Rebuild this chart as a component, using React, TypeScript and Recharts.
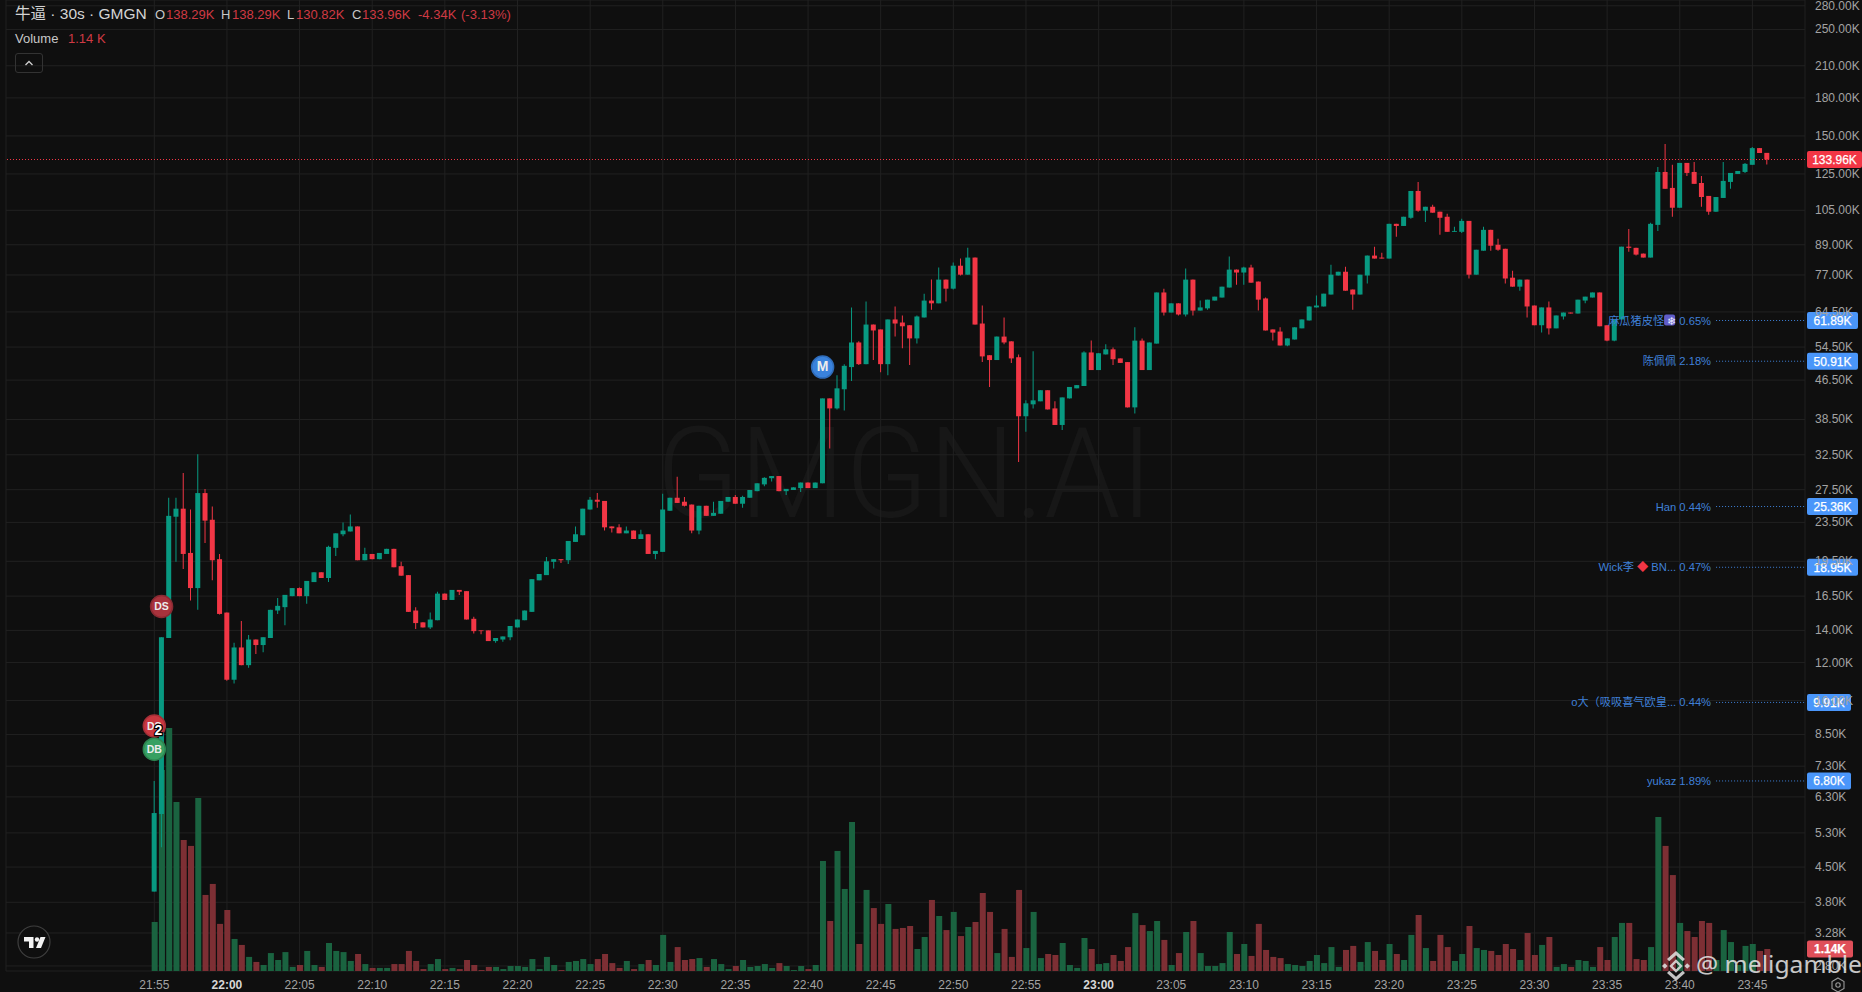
import React from "react";
import {
  Bar,
  CartesianGrid,
  Cell,
  ComposedChart,
  ReferenceDot,
  ReferenceLine,
  XAxis,
  YAxis,
} from "recharts";

// prices in thousands, one candle every 30s from 21:55
const opens = [
  4.0,5.8,13.5,24.15,25.1,20.3,17.15,27.05,23.8,19.7,
  15.25,11.05,12.9,11.85,13.4,13.05,13.5,15.4,15.65,16.5,
  17.15,16.5,17.65,18.5,18.0,20.8,22.2,22.5,23.05,19.6,
  20.2,19.7,20.2,20.7,19.05,18.25,15.4,14.55,14.2,14.7,
  16.7,16.2,17.0,16.9,14.8,14.0,14.0,13.3,13.4,13.55,
  14.2,14.7,15.3,17.8,18.25,19.45,19.7,19.6,21.4,22.1,
  25.0,26.2,26.05,23.05,22.95,22.3,22.6,21.7,22.2,20.2,
  20.4,24.85,26.45,25.95,25.6,22.6,25.45,24.25,24.5,25.95,
  26.55,25.7,26.45,27.3,28.2,29.05,29.35,27.3,27.45,27.7,
  28.45,27.7,28.35,42.6,40.6,44.5,49.5,55.7,50.2,60.7,
  59.3,50.2,62.2,61.3,60.5,56.8,62.8,68.1,67.2,75.3,
  72.1,80.5,77.1,83.7,61.0,52.4,51.2,57.3,56.0,51.9,
  39.1,41.4,42.0,44.3,40.6,37.5,42.6,44.7,45.2,53.1,
  48.8,52.6,53.9,51.6,50.7,40.8,56.2,48.8,55.4,70.8,
  64.3,67.2,63.7,75.3,64.9,65.6,68.1,69.1,72.5,79.0,
  77.9,79.8,74.6,68.8,59.3,58.7,54.9,56.5,59.6,61.9,
  65.9,66.2,70.1,76.8,78.2,71.8,70.1,76.8,84.5,83.7,
  83.3,98.4,97.4,101.3,115.2,104.8,106.8,104.3,101.8,94.7,
  94.7,99.8,77.1,86.5,95.6,89.0,87.3,76.0,72.8,75.3,
  66.5,60.5,65.9,59.6,63.1,64.3,64.0,68.1,69.1,70.8,
  60.5,56.2,62.2,88.2,87.7,85.3,83.7,97.9,126.2,116.9,
  106.3,131.8,126.2,119.7,112.5,104.3,111.4,120.3,125.0,126.2,
  130.6,141.5,138.29,
];
const closes = [
  5.83,13.55,24.25,25.1,20.2,17.15,27.05,23.7,19.6,15.15,
  11.05,12.9,11.85,13.4,13.05,13.55,15.45,15.75,16.6,17.15,
  16.5,17.75,18.5,18.0,20.9,22.3,22.6,23.05,19.6,20.2,
  19.7,20.3,20.7,18.95,18.2,15.3,14.5,14.2,14.75,16.7,
  16.2,17.0,16.85,14.75,13.95,13.95,13.3,13.5,13.6,14.3,
  14.75,15.4,17.9,18.35,19.5,19.7,19.6,21.5,22.2,25.1,
  26.2,25.95,22.95,22.85,22.3,22.6,21.7,22.2,20.2,20.5,
  25.0,26.45,25.8,25.45,22.6,25.45,24.25,24.6,26.05,26.55,
  25.7,26.55,27.45,28.35,29.1,29.35,27.3,27.6,27.8,28.45,
  27.7,28.45,42.6,40.6,44.7,49.8,55.7,50.2,60.7,59.0,
  50.2,62.2,61.0,60.2,56.8,63.1,68.1,67.2,75.3,72.1,
  80.5,77.1,83.7,60.7,52.1,51.2,57.3,55.7,51.6,39.1,
  41.6,42.2,44.3,40.4,37.5,42.8,45.0,45.4,53.1,48.8,
  52.9,53.9,51.4,50.5,40.8,56.2,48.8,55.7,70.8,64.3,
  67.2,63.7,75.3,64.9,65.9,68.4,69.4,72.8,79.0,77.9,
  79.8,74.2,68.4,59.0,58.4,54.9,56.8,59.9,62.2,66.2,
  66.5,70.4,77.1,78.2,71.4,70.1,77.1,84.5,83.3,83.3,
  98.4,97.4,101.8,115.2,104.8,106.8,103.8,101.3,94.7,95.1,
  99.8,77.1,86.9,95.6,88.6,86.9,75.7,72.8,75.3,66.2,
  60.5,65.9,59.6,63.4,64.3,64.0,68.4,69.4,70.8,60.2,
  56.2,62.2,88.2,87.7,84.9,83.7,98.4,126.2,116.4,106.3,
  131.8,125.6,119.2,111.9,104.3,111.9,120.9,125.6,126.8,131.2,
  141.5,138.2,133.96,
];
const highs = [
  6.8,13.55,26.45,26.45,29.8,25.0,32.6,27.6,25.35,20.2,
  15.25,13.2,14.65,13.7,13.4,13.55,15.45,16.35,16.6,17.15,
  17.2,17.75,18.5,18.5,21.0,22.3,23.5,24.4,23.05,20.8,
  20.2,20.3,20.7,20.7,19.45,18.25,15.65,14.55,15.25,16.85,
  16.7,17.0,17.0,16.9,14.95,14.0,14.0,13.5,13.6,14.3,
  14.75,15.4,17.9,18.35,19.9,19.7,19.7,21.5,23.05,25.1,
  26.55,27.05,26.05,23.05,23.3,23.05,22.6,22.7,22.2,20.5,
  26.95,26.45,29.25,26.55,25.6,25.45,25.45,25.95,26.05,26.55,
  26.8,26.7,27.45,28.35,29.2,29.35,29.35,27.6,27.8,28.45,
  28.45,28.45,42.6,42.6,47.6,50.2,65.9,56.0,67.8,60.7,
  59.3,62.2,66.2,63.4,60.5,63.4,70.4,75.3,79.8,75.3,
  81.7,83.3,87.7,83.7,66.5,52.4,57.3,62.8,56.0,52.6,
  42.2,53.4,44.3,44.3,42.0,42.8,45.0,45.4,53.4,56.2,
  52.9,55.2,54.4,51.6,50.7,59.9,56.8,55.7,70.8,72.1,
  67.2,67.2,79.4,75.3,68.1,68.4,69.4,72.8,84.1,79.0,
  80.1,80.9,74.6,69.1,59.3,59.9,56.8,59.9,62.2,66.2,
  69.8,70.4,80.9,78.2,80.1,71.8,77.1,84.5,88.2,85.7,
  98.4,98.4,101.8,115.2,120.3,106.8,107.8,104.3,103.3,97.0,
  100.8,99.8,86.9,97.0,95.6,91.6,87.3,78.6,75.3,75.3,
  66.5,65.9,67.8,63.4,64.3,64.3,68.4,69.4,70.8,70.8,
  60.5,62.2,88.2,96.0,87.7,85.3,98.9,129.3,144.3,130.6,
  131.8,131.8,132.4,123.8,112.5,111.9,132.4,125.6,126.8,131.8,
  142.2,141.5,138.29,
];
const lows = [
  4.0,4.95,13.5,19.45,18.8,16.15,15.45,21.3,17.8,15.1,
  11.0,10.85,11.85,11.7,12.5,12.6,13.5,15.15,14.35,16.5,
  16.5,15.9,17.65,18.0,17.65,20.0,22.0,22.5,19.6,19.6,
  19.7,19.7,20.2,18.95,18.2,15.3,14.1,14.2,14.1,14.7,
  16.2,16.2,16.6,14.75,13.8,13.75,13.3,13.2,13.25,13.35,
  14.2,14.7,15.3,17.8,18.25,18.85,19.35,19.25,21.4,22.1,
  25.0,25.2,22.6,22.4,22.3,22.3,21.7,21.7,20.2,19.7,
  20.4,24.85,25.8,25.35,22.3,22.2,24.25,24.25,24.5,25.95,
  25.7,25.2,26.45,27.3,27.95,28.6,27.3,26.8,27.45,27.2,
  27.7,27.7,28.35,33.5,40.4,40.2,46.3,50.0,50.2,51.2,
  48.3,47.6,57.3,54.2,50.0,55.4,62.8,65.2,67.2,67.8,
  71.8,76.8,77.1,60.7,50.7,45.0,51.2,55.2,50.5,31.4,
  36.3,40.6,42.0,40.4,37.5,36.6,42.6,44.7,45.2,48.8,
  48.8,52.6,50.0,50.5,40.8,39.6,48.8,48.8,55.4,63.4,
  64.3,63.4,63.1,63.4,64.9,65.2,68.1,69.1,72.5,73.5,
  73.5,74.2,64.9,59.0,56.2,54.9,54.7,56.5,59.6,61.9,
  65.9,66.2,70.1,76.8,71.4,65.2,70.1,73.9,83.3,83.3,
  83.3,92.5,97.4,100.8,104.3,99.3,103.8,93.4,94.7,94.7,
  94.2,75.7,77.1,86.5,86.5,86.5,73.9,72.8,71.4,62.8,
  60.5,58.4,57.9,59.6,62.2,64.0,64.0,67.2,69.1,60.2,
  56.0,56.0,62.2,86.1,84.5,83.7,83.7,95.1,116.4,101.8,
  106.3,123.8,119.2,106.8,102.8,104.3,111.4,116.4,125.0,125.6,
  130.6,138.2,130.82,
];
const volumes = [
  2.54,10.41,12.59,8.76,6.79,6.48,8.96,3.94,4.51,2.44,
  3.16,1.66,1.35,.73,.47,.31,.93,.57,.98,.21,
  .31,1.04,.31,.21,1.45,1.04,.98,.52,.88,.36,
  .16,.16,.16,.36,.36,1.04,.52,.10,.36,.62,
  .10,.16,.10,.57,.31,.05,.21,.21,.10,.26,
  .26,.21,.62,.10,.73,.31,.05,.47,.52,.62,
  .36,.62,.88,.41,.16,.52,.10,.36,.57,.31,
  1.87,.47,1.24,.57,.62,.67,.21,.62,.36,.10,
  .26,.57,.21,.26,.36,.16,.41,.26,.05,.26,
  .10,.31,5.70,2.59,6.22,4.25,7.72,1.40,4.20,3.26,
  2.44,3.47,2.18,2.23,2.33,1.14,1.76,3.68,2.85,2.12,
  3.06,1.81,2.28,2.54,4.04,3.06,.93,2.18,.73,4.20,
  1.19,3.06,.67,.88,.83,1.45,.31,.16,1.71,1.14,
  .36,.41,.83,.52,1.24,3.00,2.38,2.07,2.59,1.61,
  .31,.93,2.02,2.59,.93,.26,.26,.41,2.02,.88,
  1.40,.78,2.44,1.09,.73,.67,.36,.31,.26,.52,
  .83,.41,1.24,.21,1.09,1.30,.47,1.50,1.04,.57,
  1.40,.88,.57,1.87,2.90,1.19,.52,1.87,1.24,.52,
  .88,2.33,1.19,1.09,1.04,.83,1.40,1.14,.57,1.97,
  .83,1.35,1.76,.21,.36,.21,.57,.52,.21,1.24,
  .57,1.76,2.49,2.49,.62,.57,1.24,7.98,6.48,4.97,
  2.49,2.07,1.76,2.59,2.49,.57,2.12,1.50,.31,1.30,
  1.40,1.04,1.14,
];

const priceTicks = [
  280, 250, 210, 180, 150, 125, 105, 89, 77, 64.5, 54.5, 46.5, 38.5, 32.5, 27.5,
  23.5, 19.5, 16.5, 14, 12, 10, 8.5, 7.3, 6.3, 5.3, 4.5, 3.8, 3.28, 2.8,
];
const timeLabels = [
  "21:55", "22:00", "22:05", "22:10", "22:15", "22:20", "22:25", "22:30",
  "22:35", "22:40", "22:45", "22:50", "22:55", "23:00", "23:05", "23:10",
  "23:15", "23:20", "23:25", "23:30", "23:35", "23:40", "23:45",
];
const holderNames = ["麻瓜猪皮怪", "陈佩佩", "Han", "Wick李", "o大（吸吸喜气欧皇...", "yukaz"];
const holderShares = ["0.65%", "2.18%", "0.44%", "0.47%", "0.44%", "1.89%"];
const holderPrices = [61.89, 50.91, 25.36, 18.95, 9.91, 6.8];

const GREEN = "#089981";
const RED = "#f23645";
const BLUE = "#4a96fa";
const AXIS_FONT = "'Liberation Sans', Arial, sans-serif";
const CJK_FONT = "'Liberation Sans', 'Noto Sans CJK SC', sans-serif";

const rows = opens.map((o, i) => ({
  t: i / 2,
  wick: [lows[i], highs[i]],
  body: [Math.min(o, closes[i]), Math.max(o, closes[i])],
  vol: volumes[i],
  up: closes[i] >= o,
}));

const TIME_DOMAIN = [-10.208, 113.62];
const PRICE_DOMAIN = [2.733, 287.9];
const VOL_DOMAIN = [0, 50.3];
const timeTicks = timeLabels.map((_, i) => i * 5);

const PriceTick = ({ x, y, payload }: any) => (
  <text x={x + 2} y={y + 4} fill="#a3a3a3" fontSize={12} fontFamily={AXIS_FONT}>
    {payload.value.toFixed(2)}K
  </text>
);

const TimeTick = ({ x, y, payload }: any) => {
  const label = timeLabels[payload.value / 5];
  const bold = label.endsWith(":00");
  return (
    <text
      x={x}
      y={y}
      dy={10}
      textAnchor="middle"
      fill={bold ? "#d6d6d6" : "#a3a3a3"}
      fontWeight={bold ? 700 : 400}
      fontSize={12}
      fontFamily={AXIS_FONT}
    >
      {label}
    </text>
  );
};

const AxisTag = ({ viewBox, text, color, w, bold }: any) => {
  const left = viewBox.x + viewBox.width + 2;
  return (
    <g>
      <rect x={left} y={viewBox.y - 8.5} width={w} height={17} rx={2} fill={color} />
      <text
        x={left + w / 2}
        y={viewBox.y + 4.5}
        textAnchor="middle"
        fill="#fff"
        stroke="#fff"
        strokeWidth={0.25}
        fontSize={12}
        fontWeight={bold ? 700 : 400}
        fontFamily={AXIS_FONT}
      >
        {text}
      </text>
    </g>
  );
};

const HolderLabel = ({ viewBox, index }: any) => {
  const price = holderPrices[index];
  const name = holderNames[index];
  const text = price.toFixed(2) + "K";
  const end = viewBox.x - 5;
  return (
    <g>
      {index === 0 && (
        <rect x={end - 47} y={viewBox.y - 6} width={11} height={11} rx={2} fill="#5f5cc8" />
      )}
      <text
        x={end}
        y={viewBox.y + 4}
        textAnchor="end"
        fill="#3f80d8"
        fontSize={11.2}
        fontFamily={CJK_FONT}
        stroke="none"
      >
        {name}
        {index === 0 && <tspan fill="#f0ecff"> ❄</tspan>}
        {index === 3 && <tspan fill={RED}> ◆ </tspan>}
        {index === 3 && "BN..."}
        {" " + holderShares[index]}
      </text>
      <AxisTag viewBox={viewBox} text={text} color={BLUE} w={text.length > 5 ? 51 : 44} />
    </g>
  );
};

const Marker = ({ cx, cy, text, fill, ring, extra }: any) => (
  <g>
    <circle cx={cx} cy={cy} r={11} fill={fill} stroke={ring} strokeWidth={1.5} />
    <text
      x={cx}
      y={cy + 4}
      textAnchor="middle"
      fill="#ececec"
      fontSize={text === "M" ? 14 : 10.5}
      fontWeight={700}
      fontFamily={AXIS_FONT}
    >
      {text}
    </text>
    {extra && (
      <text
        x={cx + 4}
        y={cy + 9}
        textAnchor="middle"
        fill="#fff"
        stroke="#000"
        strokeWidth={2.5}
        paintOrder="stroke"
        fontSize={14}
        fontWeight={700}
        fontFamily={AXIS_FONT}
      >
        {extra}
      </text>
    )}
  </g>
);

const headerStyle: React.CSSProperties = {
  position: "absolute",
  whiteSpace: "nowrap",
  fontFamily: AXIS_FONT,
  fontSize: 13,
  lineHeight: "16px",
};
const headerRed = "#cf3a44";
const headerBits = [
  ["O", 155, "#c8c8c8"], ["138.29K", 166, headerRed],
  ["H", 221, "#c8c8c8"], ["138.29K", 232, headerRed],
  ["L", 287, "#c8c8c8"], ["130.82K", 296, headerRed],
  ["C", 352, "#c8c8c8"], ["133.96K", 362, headerRed],
  ["-4.34K", 418, headerRed], ["(-3.13%)", 461, headerRed],
];

export default function App() {
  return (
    <div
      style={{
        position: "absolute",
        left: 0,
        top: 0,
        width: 1862,
        height: 992,
        overflow: "hidden",
        background: "#0f0f0f",
      }}
    >
      <svg width={1862} height={992} style={{ position: "absolute", left: 0, top: 0 }}>
        <text
          x={656}
          y={517}
          fill="#171717"
          fontSize={126}
          fontWeight={300}
          fontFamily="Roboto, sans-serif"
          textLength={497}
          lengthAdjust="spacingAndGlyphs"
        >
          GMGN.AI
        </text>
      </svg>
      <div style={{ position: "absolute", left: 0, top: 0 }}>
        <ComposedChart
          width={1862}
          height={992}
          data={rows}
          margin={{ top: 0, right: 0, bottom: 0, left: 6 }}
        >
          <CartesianGrid xAxisId="main" yAxisId="price" stroke="#212121" strokeWidth={1} />
          <XAxis
            xAxisId="main"
            dataKey="t"
            type="number"
            domain={TIME_DOMAIN}
            allowDataOverflow
            ticks={timeTicks}
            interval={0}
            height={21}
            axisLine={false}
            tickLine={false}
            tick={<TimeTick />}
          />
          <XAxis xAxisId="vols" dataKey="t" type="number" domain={TIME_DOMAIN} allowDataOverflow hide height={0} />
          <XAxis xAxisId="wicks" dataKey="t" type="number" domain={TIME_DOMAIN} allowDataOverflow hide height={0} />
          <XAxis xAxisId="bodies" dataKey="t" type="number" domain={TIME_DOMAIN} allowDataOverflow hide height={0} />
          <YAxis
            yAxisId="price"
            orientation="right"
            scale="log"
            domain={PRICE_DOMAIN}
            allowDataOverflow
            ticks={priceTicks}
            interval={0}
            width={57}
            axisLine={false}
            tickLine={false}
            tick={<PriceTick />}
          />
          <YAxis yAxisId="vol" domain={VOL_DOMAIN} allowDataOverflow hide />

          <Bar xAxisId="vols" yAxisId="vol" dataKey="vol" barSize={6} isAnimationActive={false}>
            {rows.map((r) => (
              <Cell key={r.t} fill={r.up ? "#1a6340" : "#7d2f34"} />
            ))}
          </Bar>
          <Bar xAxisId="wicks" yAxisId="price" dataKey="wick" barSize={1} isAnimationActive={false}>
            {rows.map((r) => (
              <Cell key={r.t} fill={r.up ? GREEN : RED} />
            ))}
          </Bar>
          <Bar xAxisId="bodies" yAxisId="price" dataKey="body" barSize={5} isAnimationActive={false}>
            {rows.map((r) => (
              <Cell key={r.t} fill={r.up ? GREEN : RED} />
            ))}
          </Bar>

          <ReferenceLine
            xAxisId="main"
            yAxisId="price"
            y={closes[closes.length - 1]}
            stroke={RED}
            strokeDasharray="1 2"
            label={<AxisTag text="133.96K" color={RED} w={55} />}
          />
          {holderPrices.map((p, i) => (
            <ReferenceLine
              key={p}
              xAxisId="main"
              yAxisId="price"
              segment={[{ x: 107.5, y: p }, { x: TIME_DOMAIN[1], y: p }]}
              stroke="#3f80d8"
              strokeDasharray="1 2"
              label={<HolderLabel index={i} />}
            />
          ))}
          <ReferenceLine
            xAxisId="main"
            yAxisId="vol"
            y={volumes[volumes.length - 1]}
            stroke="none"
            label={<AxisTag text="1.14K" color="#df4f59" w={46} bold />}
          />
          <ReferenceDot
            xAxisId="main"
            yAxisId="price"
            x={0.5}
            y={15.7}
            shape={(p: any) => <Marker {...p} text="DS" fill="#a8323c" ring="#8a2a32" />}
          />
          <ReferenceDot
            xAxisId="main"
            yAxisId="price"
            x={0}
            y={8.85}
            shape={(p: any) => <Marker {...p} text="DS" fill="#c9373f" ring="#a52f37" extra="2" />}
          />
          <ReferenceDot
            xAxisId="main"
            yAxisId="price"
            x={0}
            y={7.92}
            shape={(p: any) => <Marker {...p} text="DB" fill="#37a062" ring="#2c8450" />}
          />
          <ReferenceDot
            xAxisId="main"
            yAxisId="price"
            x={46}
            y={49.5}
            shape={(p: any) => <Marker {...p} text="M" fill="#3a82dc" ring="#2f6cba" />}
          />
        </ComposedChart>
      </div>

      <div style={{ ...headerStyle, left: 15, top: 6, color: "#d4d4d4", fontSize: 15.5, fontFamily: CJK_FONT }}>
        牛逼 · 30s · GMGN
      </div>
      {headerBits.map(([t, left, color]: any) => (
        <div key={t + left} style={{ ...headerStyle, left, top: 7, color }}>
          {t}
        </div>
      ))}
      <div style={{ ...headerStyle, left: 15, top: 31, color: "#c8c8c8" }}>Volume</div>
      <div style={{ ...headerStyle, left: 68, top: 31, color: headerRed }}>1.14 K</div>
      <div
        style={{
          position: "absolute",
          left: 15,
          top: 53,
          width: 28,
          height: 20,
          boxSizing: "border-box",
          border: "1px solid #333",
          borderRadius: 3,
        }}
      />

      <svg width={1862} height={992} style={{ position: "absolute", left: 0, top: 0, pointerEvents: "none" }}>
        <path d="M25.5 65l3.5-3.5 3.5 3.5" fill="none" stroke="#cfcfcf" strokeWidth={1.3} />
        <circle cx={34} cy={942} r={16} fill="#0f0f0f" stroke="#3f3f3f" strokeWidth={1.2} />
        <path d="M24 937h9.5v11h-4.5v-6.5h-5z" fill="#f2f2f2" />
        <circle cx={37} cy={939.5} r={2.2} fill="#f2f2f2" />
        <path d="M40.5 937h5l-4.5 11h-5z" fill="#f2f2f2" />
        <path d="M1838 978l6 3.5v7l-6 3.5-6-3.5v-7z" fill="none" stroke="#9a9a9a" strokeWidth={1.1} />
        <circle cx={1838} cy={985} r={2.2} fill="none" stroke="#9a9a9a" strokeWidth={1.1} />
        <path d="M1671 966l5-5 5 5-5 5z" fill="none" stroke="#e4e4e4" strokeWidth={2.4} opacity={0.85} />
        <g fill="#e4e4e4" opacity={0.85}>
          <path d="M1667 959l9-8 9 8-2.2 2.2-6.8-6-6.8 6z" />
          <path d="M1662 966l2.8-2.8 2.8 2.8-2.8 2.8z" />
          <path d="M1684.4 966l2.8-2.8 2.8 2.8-2.8 2.8z" />
          <path d="M1667 973l9 8 9-8-2.2-2.2-6.8 6-6.8-6z" />
        </g>
        <text
          x={1696}
          y={973}
          fill="#e8e8e8"
          opacity={0.85}
          fontSize={23}
          fontFamily="'Noto Sans', sans-serif"
          textLength={166}
          lengthAdjust="spacingAndGlyphs"
        >
          @ meligamble
        </text>
      </svg>
    </div>
  );
}
